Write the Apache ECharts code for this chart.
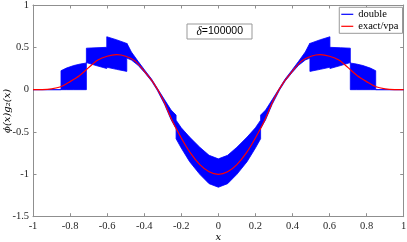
<!DOCTYPE html>
<html><head><meta charset="utf-8">
<script src="https://cdn.jsdelivr.net/npm/echarts@6/dist/echarts.min.js"></script>
<style>html,body{margin:0;padding:0;background:#fff}#c{width:407px;height:242px}</style>
</head><body><div id="c"></div>
<script>
// ---- data ----
const xTickLabels = ['-1','-0.8','-0.6','-0.4','-0.2','0','0.2','0.4','0.6','0.8','1'];
const yTickLabels = ['-1.5','-1','-0.5','0','0.5','1'];
const legendNames = ['double','exact/vpa'];
const annotation = 'δ=100000';

// exact/vpa curve
const exactX = [-1,-0.95,-0.9,-0.85,-0.8,-0.75,-0.7,-0.65,-0.6,-0.55,-0.5,-0.45,-0.4,-0.35,-0.3,-0.25,-0.2,-0.15,-0.1,-0.05,0,
                0.05,0.1,0.15,0.2,0.25,0.3,0.35,0.4,0.45,0.5,0.55,0.6,0.65,0.7,0.75,0.8,0.85,0.9,0.95,1];
const exactY = [0,0.001,0.01,0.035,0.095,0.165,0.26,0.35,0.395,0.413,0.395,0.34,0.22,0.08,-0.11,-0.36,-0.57,-0.75,-0.885,-0.97,-1,
                -0.97,-0.885,-0.75,-0.57,-0.36,-0.11,0.08,0.22,0.34,0.395,0.413,0.395,0.35,0.26,0.165,0.095,0.035,0.01,0.001,0];

// "double" result: envelope of the noisy band (upper / lower edges)
const bandX = [-1,-0.849,-0.849,-0.82,-0.78,-0.745,-0.712,-0.712,-0.66,-0.602,-0.602,-0.55,-0.494,-0.494,-0.469,-0.433,-0.397,-0.36,-0.33,-0.29,-0.255,-0.228,-0.228,-0.2,-0.155,-0.1,-0.05,0,
               0.05,0.1,0.155,0.2,0.228,0.228,0.255,0.29,0.33,0.36,0.397,0.433,0.469,0.494,0.494,0.55,0.602,0.602,0.66,0.712,0.712,0.745,0.78,0.82,0.849,0.849,1];
const bandUpper = [0,0,0.224,0.255,0.285,0.303,0.315,0.49,0.495,0.50,0.625,0.59,0.546,0.55,0.445,0.335,0.23,0.125,0.02,-0.12,-0.24,-0.30,-0.36,-0.45,-0.56,-0.68,-0.775,-0.817,
                   -0.775,-0.68,-0.56,-0.45,-0.36,-0.30,-0.24,-0.12,0.02,0.125,0.23,0.335,0.445,0.55,0.546,0.59,0.625,0.50,0.495,0.49,0.315,0.303,0.285,0.255,0.224,0,0];
const bandLower = [0,0,0,0,0,0,0,0.32,0.285,0.25,0.265,0.24,0.216,0.373,0.35,0.288,0.20,0.10,-0.005,-0.175,-0.355,-0.46,-0.58,-0.69,-0.85,-1.0,-1.11,-1.152,
                   -1.11,-1.0,-0.85,-0.69,-0.58,-0.46,-0.355,-0.175,-0.005,0.10,0.20,0.288,0.35,0.373,0.216,0.24,0.265,0.25,0.285,0.32,0,0,0,0,0,0,0];

// ---- chart ----
const exactData = exactX.map((x, i) => [x, exactY[i]]);
const axisGray = '#8f8f8f';
const labelFont = {fontFamily: 'Liberation Serif', fontSize: 10.5, color: '#262626'};

function xFmt(v) { const i = Math.round((v + 1) / 0.2); return xTickLabels[i] !== undefined ? xTickLabels[i] : ''; }
function yFmt(v) { const i = Math.round((v + 1.5) / 0.5); return yTickLabels[i] !== undefined ? yTickLabels[i] : ''; }

const chart = echarts.init(document.getElementById('c'), null, {renderer: 'canvas'});
chart.setOption({
  animation: false,
  backgroundColor: '#fff',
  grid: {left: 33, right: 3.3, top: 5, bottom: 25.3, containLabel: false, outerBoundsMode: 'none'},
  title: {
    text: '{d|δ}{n|' + annotation.slice(1) + '}',
    left: 186.5, top: 23.5, padding: [2, 9, 2, 10],
    borderColor: '#999', borderWidth: 1, backgroundColor: '#fff',
    textStyle: {fontWeight: 'normal', rich: {
      d: {fontFamily: 'Liberation Serif', fontStyle: 'italic', fontWeight: 'normal', fontSize: 11.5, color: '#000', lineHeight: 12},
      n: {fontFamily: 'Liberation Sans', fontWeight: 'normal', fontSize: 10.5, color: '#000', lineHeight: 12}
    }}
  },
  legend: {
    data: [{name: legendNames[0], icon: 'rect'}, {name: legendNames[1], icon: 'rect'}],
    orient: 'vertical', right: 4.5, top: 7.3,
    itemWidth: 12, itemHeight: 1.2, itemGap: 0,
    padding: [1, 4, 1, 2],
    borderColor: '#999', borderWidth: 1, backgroundColor: '#fff',
    selectedMode: false,
    textStyle: {fontFamily: 'Liberation Serif', fontSize: 10.5, color: '#000', lineHeight: 12}
  },
  xAxis: [{
    type: 'value', min: -1, max: 1, interval: 0.2, position: 'bottom',
    axisLine: {show: true, onZero: false, lineStyle: {color: axisGray, width: 1}},
    axisTick: {show: true, inside: true, length: 3.5, lineStyle: {color: axisGray}},
    axisLabel: Object.assign({margin: 4, formatter: xFmt}, labelFont),
    splitLine: {show: false},
    name: 'x', nameLocation: 'middle', nameGap: 15.5, nameMoveOverlap: false,
    nameTextStyle: {fontFamily: 'DejaVu Serif', fontStyle: 'italic', fontSize: 10, color: '#000'}
  }, {
    type: 'value', min: -1, max: 1, interval: 0.2, position: 'top',
    axisLine: {show: true, onZero: false, lineStyle: {color: axisGray, width: 1}},
    axisTick: {show: true, inside: true, length: 3.5, lineStyle: {color: axisGray}},
    axisLabel: {show: false}, splitLine: {show: false}
  }],
  yAxis: [{
    type: 'value', min: -1.5, max: 1, interval: 0.5, position: 'left',
    axisLine: {show: true, onZero: false, lineStyle: {color: axisGray, width: 1}},
    axisTick: {show: true, inside: true, length: 3.5, lineStyle: {color: axisGray}},
    axisLabel: Object.assign({margin: 4, formatter: yFmt}, labelFont),
    splitLine: {show: false},
    name: 'ϕ(x)g₂(x)', nameLocation: 'middle', nameGap: 21, nameRotate: 90, nameMoveOverlap: false,
    nameTextStyle: {fontFamily: 'DejaVu Serif', fontStyle: 'italic', fontSize: 10, color: '#000'}
  }, {
    type: 'value', min: -1.5, max: 1, interval: 0.5, position: 'right',
    axisLine: {show: true, onZero: false, lineStyle: {color: axisGray, width: 1}},
    axisTick: {show: true, inside: true, length: 3.5, lineStyle: {color: axisGray}},
    axisLabel: {show: false}, splitLine: {show: false}
  }],
  series: [
    {name: 'double', type: 'line', data: [], symbol: 'none', color: '#0000ff', lineStyle: {color: '#0000ff', width: 1}},
    {
      name: 'band', type: 'custom', xAxisIndex: 0, yAxisIndex: 0, clip: true, silent: true, z: 2,
      data: [[0, 0]],
      renderItem: function (params, api) {
        const pts = [];
        for (let i = 0; i < bandX.length; i++) pts.push(api.coord([bandX[i], bandUpper[i]]));
        for (let i = bandX.length - 1; i >= 0; i--) pts.push(api.coord([bandX[i], bandLower[i]]));
        return {type: 'polygon', shape: {points: pts},
                style: {fill: '#0000ff', stroke: '#0000ff', lineWidth: 0.8}};
      }
    },
    {name: 'exact/vpa', type: 'line', data: exactData, smooth: 0.3, symbol: 'none', z: 3,
     color: '#ff0000', lineStyle: {color: '#ff0000', width: 1.2}}
  ]
});
</script></body></html>
